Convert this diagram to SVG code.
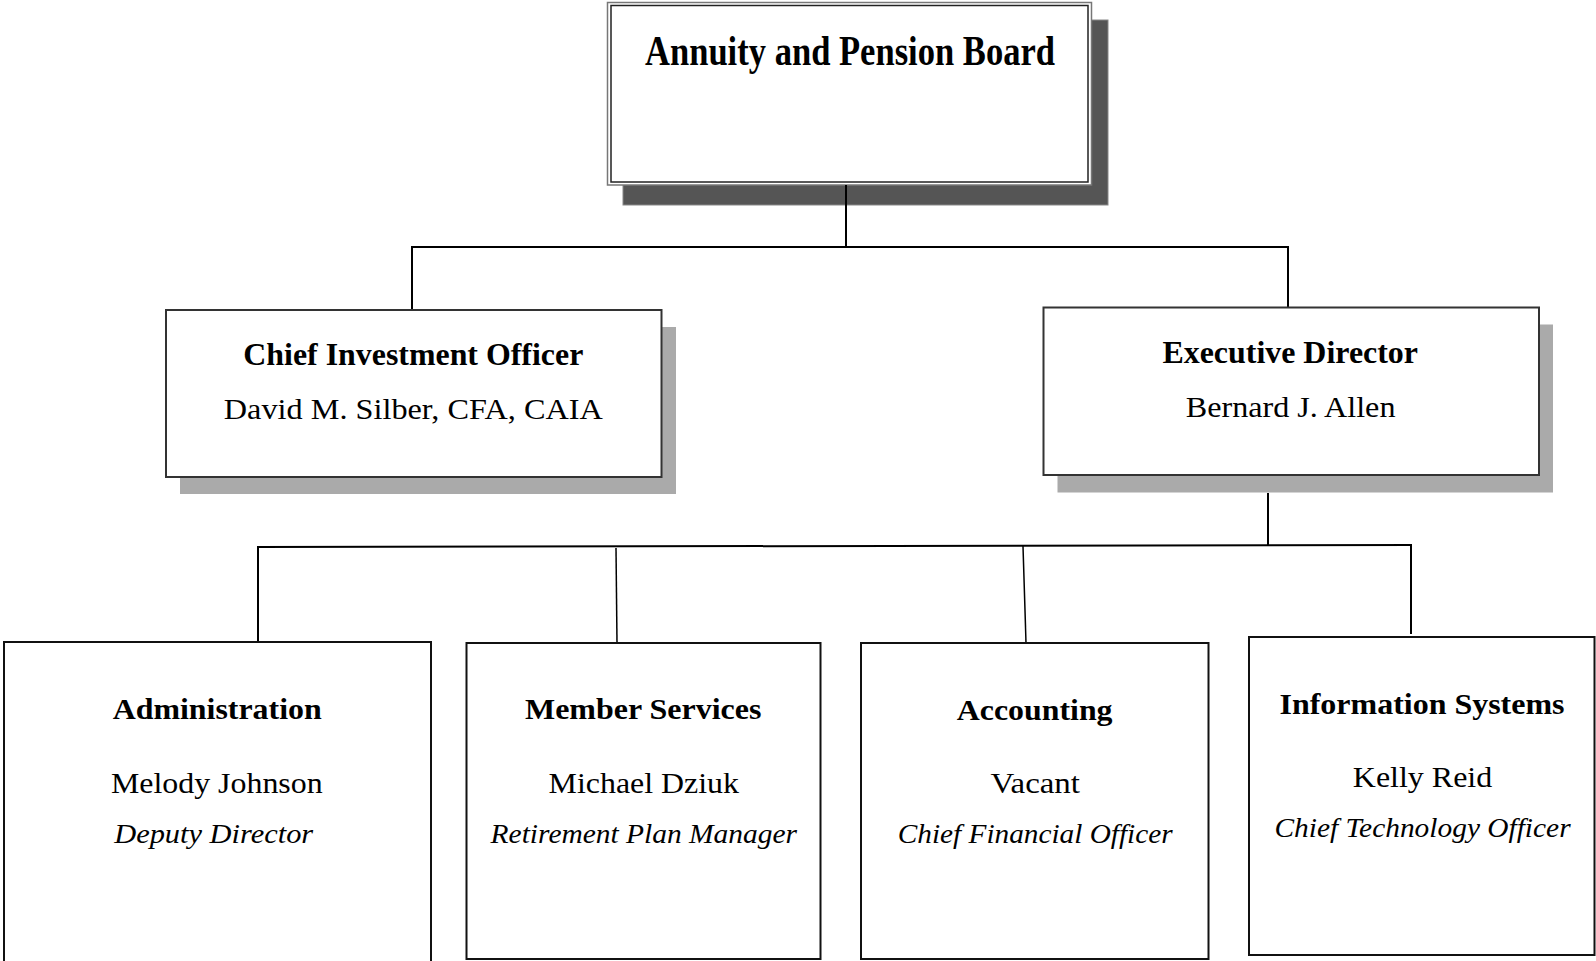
<svg xmlns="http://www.w3.org/2000/svg" width="1596" height="961" viewBox="0 0 1596 961">
<style>
text{font-family:"Liberation Serif","Times New Roman",serif;fill:#000;text-anchor:middle}
.b{font-weight:bold}
.i{font-style:italic}
.box{fill:#fff;stroke:#111;stroke-width:2}
.mid{fill:#fff;stroke:#333;stroke-width:2}
.sh{fill:#aaa}
.con line{stroke:#000;stroke-width:2}
</style>
<rect width="1596" height="961" fill="#fff"/>
<g id="board">
<rect x="623" y="20" width="485" height="185" fill="#555" stroke="#888" stroke-width="1"/>
<rect x="607.5" y="2.5" width="484" height="182.5" fill="#fff" stroke="#777" stroke-width="1.5"/>
<rect x="611" y="5.5" width="477" height="176.5" fill="none" stroke="#222" stroke-width="1.5"/>
<text class="b" x="850" y="65" font-size="42" textLength="410" lengthAdjust="spacingAndGlyphs">Annuity and Pension Board</text>
</g>
<g id="connectors" class="con">
<line x1="846" y1="185" x2="846" y2="247"/>
<line x1="411" y1="247" x2="1289" y2="247"/>
<line x1="412" y1="246" x2="412" y2="310"/>
<line x1="1288" y1="246" x2="1288" y2="307"/>
<line x1="1268" y1="493" x2="1268" y2="546"/>
<line x1="257" y1="547" x2="1412" y2="545"/>
<line x1="258" y1="546" x2="258" y2="641"/>
<line x1="616" y1="548" x2="617" y2="643" style="stroke-width:1.5"/>
<line x1="1023" y1="546" x2="1026" y2="643" style="stroke-width:1.5"/>
<line x1="1411" y1="545" x2="1411" y2="634"/>
</g>
<g id="cio">
<rect class="sh" x="180" y="327" width="496" height="167"/>
<rect class="mid" x="166" y="310" width="495.5" height="167"/>
<text class="b" x="413.3" y="365" font-size="32" textLength="340" lengthAdjust="spacingAndGlyphs">Chief Investment Officer</text>
<text x="413.3" y="419" font-size="30" textLength="379" lengthAdjust="spacingAndGlyphs">David M. Silber, CFA, CAIA</text>
</g>
<g id="ed">
<rect class="sh" x="1057.5" y="324.5" width="495.5" height="168"/>
<rect class="mid" x="1043.5" y="307.5" width="495.5" height="167.5"/>
<text class="b" x="1290.2" y="363" font-size="32" textLength="255.6" lengthAdjust="spacingAndGlyphs">Executive Director</text>
<text x="1290.6" y="417" font-size="30" textLength="209.7" lengthAdjust="spacingAndGlyphs">Bernard J. Allen</text>
</g>
<g id="admin">
<rect class="box" x="4" y="642" width="427" height="340"/>
<text class="b" x="217.2" y="719" font-size="29" textLength="209" lengthAdjust="spacingAndGlyphs">Administration</text>
<text x="216.8" y="792.5" font-size="29" textLength="211.7" lengthAdjust="spacingAndGlyphs">Melody Johnson</text>
<text class="i" x="213.7" y="842.5" font-size="28" textLength="199" lengthAdjust="spacingAndGlyphs">Deputy Director</text>
</g>
<g id="member">
<rect class="box" x="466.5" y="643" width="354" height="316"/>
<text class="b" x="643.2" y="719" font-size="29" textLength="236.4" lengthAdjust="spacingAndGlyphs">Member Services</text>
<text x="643.8" y="793" font-size="29" textLength="190.4" lengthAdjust="spacingAndGlyphs">Michael Dziuk</text>
<text class="i" x="643.8" y="843" font-size="28" textLength="306.4" lengthAdjust="spacingAndGlyphs">Retirement Plan Manager</text>
</g>
<g id="accounting">
<rect class="box" x="861" y="643" width="347.5" height="316"/>
<text class="b" x="1034.7" y="720" font-size="29" textLength="155.7" lengthAdjust="spacingAndGlyphs">Accounting</text>
<text x="1035.2" y="792.5" font-size="29" textLength="89.6" lengthAdjust="spacingAndGlyphs">Vacant</text>
<text class="i" x="1035.2" y="843" font-size="28" textLength="274.8" lengthAdjust="spacingAndGlyphs">Chief Financial Officer</text>
</g>
<g id="infosys">
<rect class="box" x="1249" y="637" width="345.5" height="318"/>
<text class="b" x="1422" y="714" font-size="29" textLength="285" lengthAdjust="spacingAndGlyphs">Information Systems</text>
<text x="1422.5" y="787" font-size="29" textLength="139.4" lengthAdjust="spacingAndGlyphs">Kelly Reid</text>
<text class="i" x="1422.5" y="837" font-size="28" textLength="296.2" lengthAdjust="spacingAndGlyphs">Chief Technology Officer</text>
</g>
</svg>
